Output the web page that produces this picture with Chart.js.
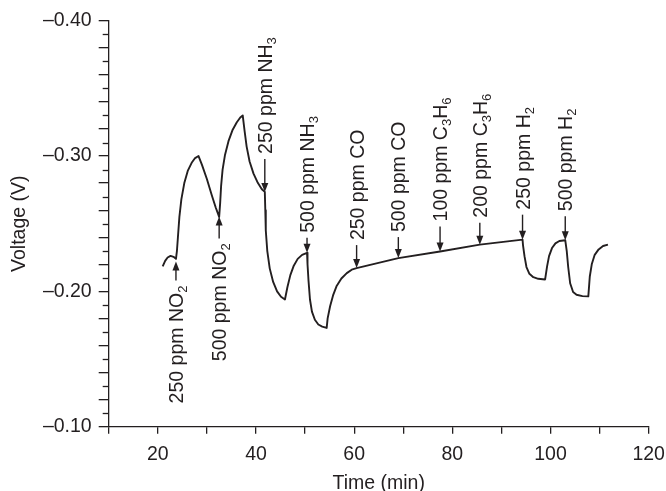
<!DOCTYPE html>
<html><head><meta charset="utf-8">
<script src="https://cdn.jsdelivr.net/npm/chart.js@4"></script>
<style>html,body{margin:0;padding:0;background:#fff}canvas{display:block}</style>
</head><body>
<canvas id="c" width="666" height="491"></canvas>
<script>
// ---- data ----
const timeMin = [21.0,21.5,22.0,22.6,23.2,23.7,23.9,24.1,24.4,24.8,25.4,26.1,26.9,27.6,28.3,
  29.0,30.0,31.0,31.8,32.5,32.7,32.9,33.2,33.7,34.4,35.2,36.1,36.8,37.3,
  37.7,38.1,38.7,39.5,40.4,41.2,41.8,41.9,42.0,42.3,42.8,43.5,44.3,45.1,45.9,
  46.4,47.0,47.7,48.5,49.4,50.4,50.5,50.7,51.0,51.4,52.0,52.7,53.5,54.4,
  54.6,55.1,55.7,56.4,57.4,58.5,59.5,60.5,69.0,77.5,85.6,94.3,
  94.4,94.7,95.1,95.7,96.5,97.5,98.9,99.3,99.7,100.3,101.0,101.8,103.0,
  103.3,103.6,104.0,104.6,105.3,106.5,107.7,108.0,108.4,109.0,109.8,110.7,111.7];
const voltage = [-0.2185,-0.2225,-0.2250,-0.2262,-0.2255,-0.2240,-0.2300,-0.2400,-0.2550,-0.2680,-0.2800,-0.2890,-0.2950,-0.2985,-0.3000,
  -0.2935,-0.2830,-0.2710,-0.2620,-0.2550,-0.2650,-0.2780,-0.2900,-0.3010,-0.3110,-0.3190,-0.3250,-0.3285,-0.3300,
  -0.3180,-0.3070,-0.2960,-0.2870,-0.2800,-0.2755,-0.2735,-0.2600,-0.2450,-0.2300,-0.2170,-0.2070,-0.2000,-0.1960,-0.1940,
  -0.2030,-0.2120,-0.2190,-0.2240,-0.2270,-0.2285,-0.2200,-0.2080,-0.1940,-0.1850,-0.1790,-0.1755,-0.1740,-0.1730,
  -0.1800,-0.1890,-0.1970,-0.2037,-0.2095,-0.2135,-0.2160,-0.2172,-0.2246,-0.2295,-0.2345,-0.2382,
  -0.2340,-0.2260,-0.2180,-0.2130,-0.2105,-0.2093,-0.2088,-0.2185,-0.2260,-0.2320,-0.2355,-0.2372,-0.2378,
  -0.2300,-0.2180,-0.2060,-0.1995,-0.1975,-0.1965,-0.1963,-0.2110,-0.2200,-0.2270,-0.2310,-0.2335,-0.2345];
const xTickLabels = [20, 40, 60, 80, 100, 120];
const yTickLabels = [-0.40, -0.30, -0.20, -0.10];
const annotationText = ['250 ppm NO_2','500 ppm NO_2','250 ppm NH_3','500 ppm NH_3','250 ppm CO',
  '500 ppm CO','100 ppm C_3H_6','200 ppm C_3H_6','250 ppm H_2','500 ppm H_2'];
const annotationTime = [23.7, 32.5, 41.8, 50.4, 60.5, 69.0, 77.5, 85.6, 94.3, 103.0];
const annotationTip = [-0.222, -0.2554, -0.2735, -0.2285, -0.2172, -0.2246, -0.2295, -0.2345, -0.2382, -0.2378];
const annotationDir = ['up','up','down','down','down','down','down','down','down','down'];

// ---- style ----
const FONT = '"Liberation Sans", Arial, Helvetica, sans-serif';
const INK = '#231f20';
const annotationGap = [24, 27, 38, 20, 28, 26, 30, 27, 30, 29];

function parseRich(s){
  const segs=[]; let buf='';
  for(let i=0;i<s.length;i++){
    if(s[i]==='_'){ if(buf){segs.push([buf,false]);buf='';} segs.push([s[i+1],true]); i++; }
    else buf+=s[i];
  }
  if(buf) segs.push([buf,false]);
  return segs;
}

const annotPlugin = {
  id:'annot',
  afterDraw(chart){
    const {ctx, scales:{x,y}, chartArea} = chart;
    ctx.save();
    ctx.fillStyle=INK; ctx.strokeStyle=INK; ctx.lineWidth=1.4;
    annotationText.forEach((txt,i)=>{
      const px = x.getPixelForValue(annotationTime[i]);
      const py = y.getPixelForValue(annotationTip[i]);
      const up = annotationDir[i]==='up';
      const gap = annotationGap[i];
      const s = up ? 1 : -1;
      ctx.beginPath(); ctx.moveTo(px, py + s*(gap-5)); ctx.lineTo(px, py + s*8); ctx.stroke();
      ctx.beginPath(); ctx.moveTo(px,py); ctx.lineTo(px-3.5, py+s*9); ctx.lineTo(px+3.5, py+s*9); ctx.closePath(); ctx.fill();
      const segs=parseRich(txt);
      const big='19.5px '+FONT, small='13px '+FONT;
      let w=0; segs.forEach(([t,sub])=>{ctx.font=sub?small:big; w+=ctx.measureText(t).width;});
      const startY = up ? py + gap + w : py - gap;
      ctx.save();
      ctx.translate(px + 7, startY);
      ctx.rotate(-Math.PI/2);
      ctx.textBaseline='alphabetic'; ctx.textAlign='left';
      let cx=0;
      segs.forEach(([t,sub])=>{ctx.font=sub?small:big; ctx.fillText(t,cx,sub?4:0); cx+=ctx.measureText(t).width;});
      ctx.restore();
    });
    // short minor ticks on the y axis (odd hundredths)
    ctx.lineWidth=1.3;
    y.ticks.forEach(t=>{
      const k=Math.round(t.value*100);
      if(Math.abs(k)%2===1){
        const py=Math.round(y.getPixelForValue(t.value))+0.5;
        ctx.beginPath(); ctx.moveTo(chartArea.left-6, py); ctx.lineTo(chartArea.left, py); ctx.stroke();
      }
    });
    ctx.restore();
  }
};

new Chart(document.getElementById('c'), {
  type:'line',
  data:{datasets:[{data: timeMin.map((t,i)=>({x:t,y:voltage[i]})), borderColor:INK, borderWidth:1.9,
    pointRadius:0, tension:0, fill:false, borderJoinStyle:'round'}]},
  options:{
    responsive:false, animation:false, devicePixelRatio:1,
    layout:{padding:{left:0, top:20.7, right:17.3, bottom:0}},
    plugins:{legend:{display:false}, tooltip:{enabled:false}},
    scales:{
      x:{type:'linear', min:10, max:120,
        ticks:{stepSize:10, autoSkip:false, maxRotation:0, color:INK, font:{family:FONT,size:19.5}, padding:9,
          callback:v=>xTickLabels.includes(v)?String(v):''},
        grid:{drawOnChartArea:false, drawTicks:true, tickLength:7, color:INK, lineWidth:1.3},
        border:{display:true, color:INK, width:1.3},
        title:{display:true, text:'Time (min)', color:INK, font:{family:FONT,size:19.5,lineHeight:0.74}, padding:{top:0,bottom:0}},
        afterFit:s=>{s.height=64.3; s.paddingLeft=0; s.paddingRight=0;}
      },
      y:{type:'linear', min:-0.4, max:-0.1, reverse:true,
        ticks:{stepSize:0.01, autoSkip:false, color:INK, font:{family:FONT,size:19.5}, padding:7,
          callback:v=>{const m=yTickLabels.find(l=>Math.abs(l-v)<1e-6); return m===undefined?'':'\u2013'+Math.abs(m).toFixed(2);}},
        grid:{drawOnChartArea:false, drawTicks:true, tickLength:10, lineWidth:1.3,
          color:c=>(Math.abs(Math.round(c.tick.value*100))%2===0)?INK:'rgba(0,0,0,0)'},
        border:{display:true, color:INK, width:1.3},
        title:{display:true, text:'Voltage (V)', color:INK, font:{family:FONT,size:19.5,lineHeight:0.74}, padding:{top:12,bottom:0}},
        afterFit:s=>{s.width=108.7; s.paddingTop=0; s.paddingBottom=0;}
      }
    }
  },
  plugins:[annotPlugin]
});
</script>
</body></html>
